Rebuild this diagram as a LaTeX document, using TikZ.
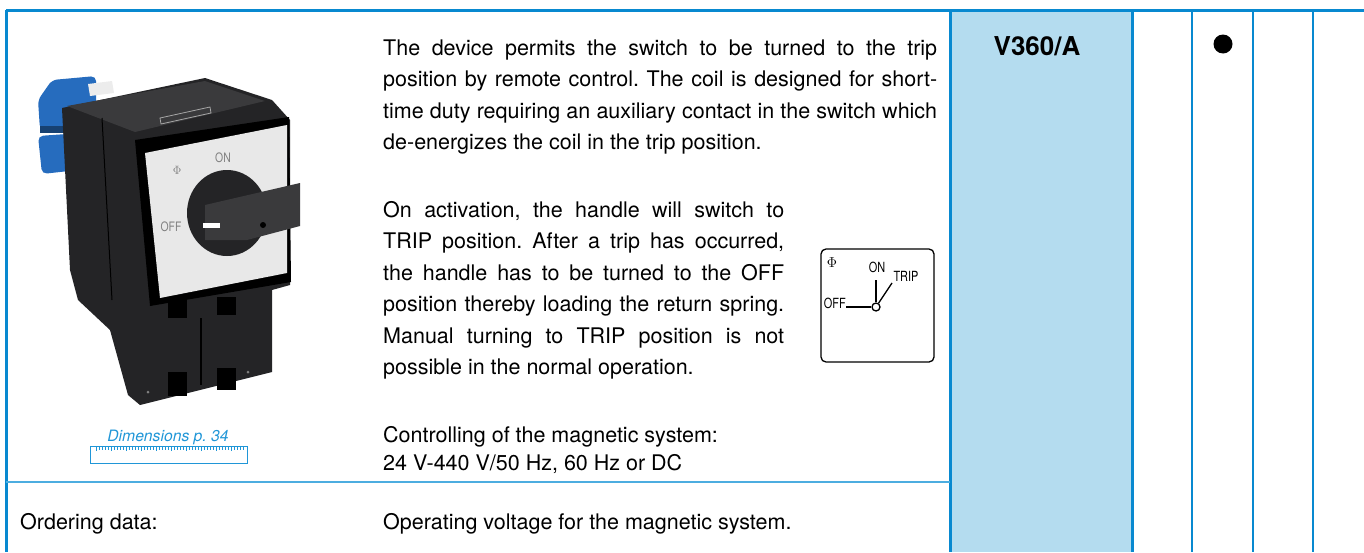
\documentclass[tikz,border=0pt]{standalone}
\usepackage{fontspec}
\setmainfont{TeX Gyre Heros}
\usepackage{xcolor}
\usepackage{tikz}
\usetikzlibrary{positioning}
\setlength{\parindent}{0pt}
\frenchspacing

\definecolor{frameblue}{RGB}{8,137,208}
\definecolor{colfill}{RGB}{180,220,239}
\definecolor{rowline}{RGB}{76,173,224}
\definecolor{dimblue}{RGB}{32,150,215}
\definecolor{bodyblack}{RGB}{36,36,38}
\definecolor{topblack}{RGB}{58,58,60}
\definecolor{clampblue}{RGB}{38,108,190}
\definecolor{plategrey}{RGB}{232,232,232}

\newcommand{\jline}[2]{\makebox[#1][s]{#2}}

\tikzset{
  para/.style={anchor=north west,inner sep=0pt,text width=#1,align=justify,
    font=\fontsize{21.5}{31.5}\selectfont},
  oneline/.style={anchor=base west,inner sep=0pt,font=\fontsize{21.5}{26}\selectfont},
  symtext/.style={inner sep=0pt,font=\fontsize{14}{14}\selectfont},
  platetext/.style={inner sep=0pt,text=gray,font=\fontsize{13}{13}\selectfont},
  symline/.style={line width=1.3pt},
}

\begin{document}
\begin{tikzpicture}[x=1pt,y=-1pt]
        \useasboundingbox (0,0) rectangle (1364,552);

        % Columns
        \fill[colfill] (950,10) rectangle (1132,552);
        \draw[frameblue,line width=3pt] (6,10) -- (1364,10);
        \draw[frameblue,line width=3pt] (6,10) -- (6,552);
        \draw[frameblue,line width=3pt] (950,10) -- (950,552);
        \draw[frameblue,line width=3pt] (1132,10) -- (1132,552);
        \foreach \cx in {1192,1253,1313}
          \draw[frameblue,line width=1.6pt] (\cx,10) -- (\cx,552);
        \draw[rowline,line width=2pt] (6,482) -- (950,482);

        % Type and mark
        \node[anchor=base,inner sep=0pt,font=\bfseries\fontsize{26}{26}\selectfont] (code) at (1037,55) {V360/A};
        \node[circle,fill=black,minimum size=19pt,inner sep=0pt] (mark) at (1223,44) {};

        % Device: blue clamps
        \fill[clampblue,rounded corners=5pt] (38,100) -- (52,80) -- (96,76) -- (96,126) -- (40,130) -- cycle;
        \fill[clampblue,rounded corners=5pt] (38,136) -- (96,132) -- (96,168) -- (42,174) -- cycle;
        \fill[clampblue!60!black] (40,126) rectangle (96,133);
        \fill[white!85!gray] (88,84) -- (112,81) -- (114,93) -- (90,96) -- cycle;

        % Device: body
        \fill[bodyblack] (62,108) -- (205,78) -- (272,100) -- (290,120) -- (290,285)
          -- (272,290) -- (272,372) -- (140,405) -- (128,395) -- (110,330) -- (78,300)
          -- (70,270) -- cycle;
        \fill[topblack] (67,106) -- (205,81) -- (265,101) -- (135,132) -- cycle;
        \draw[gray!70,line width=0.8pt] (160,118) -- (210,107) -- (211,113) -- (161,124) -- cycle;
        \draw[black,line width=1pt] (102,118) -- (112,300);

        % Device: front plate
        \fill[black] (135,140) -- (289,117) -- (291,282) -- (150,306) -- cycle;
        \fill[plategrey] (145,153) -- (287,125) -- (287,273) -- (160,298) -- cycle;
        \node[platetext] (platephi) at (177,170) {$\Phi$};
        \node[platetext] (plateon) at (223,158) {\scalebox{0.8}[1]{ON}};
        \node[platetext] (plateoff) at (171,227) {\scalebox{0.8}[1]{OFF}};

        % Device: knob and handle
        \fill[bodyblack] (227,213) ellipse [x radius=40,y radius=43];
        \fill[topblack] (205,205) -- (300,183) -- (300,226) -- (247,240) -- (205,240) -- cycle;
        \fill[black] (263,225) circle [radius=3];
        \fill[white] (203,223) rectangle (220,228);

        % Device: lower slots
        \fill[black] (168,300) rectangle (187,318);
        \fill[black] (217,297) rectangle (236,315);
        \fill[black] (168,372) rectangle (187,396);
        \fill[black] (217,368) rectangle (236,390);
        \draw[black,line width=2pt] (201,318) -- (201,385);
        \fill[gray] (148,392) circle [radius=1.5];
        \fill[gray] (248,372) circle [radius=1.5];

        % Dimensions
        \node[anchor=base,inner sep=0pt,text=dimblue,font=\itshape\fontsize{15.7}{16}\selectfont] (dims) at (168,441) {Dimensions p. 34};
        \draw[dimblue,line width=0.9pt] (90,446) rectangle (247,463);
        \foreach \t in {0,...,49}
          \draw[dimblue,line width=0.4pt] (96+3*\t,447) -- ++(0,{ifthenelse(mod(\t,5)==0,4,2.5)});

        % Description
        \node[para=554pt] (intro) at (383,33) {%
          \strut\jline{554pt}{The device permits the switch to be turned to the trip}\\
          \jline{554pt}{position by remote control. The coil is designed for short-}\\
          \jline{554pt}{time duty requiring an auxiliary contact in the switch which}\\
          de-energizes the coil in the trip position.};
        \node[para=401pt] (trip) at (383,195) {%
          \strut\jline{401pt}{On activation, the handle will switch to}\\
          \jline{401pt}{TRIP position. After a trip has occurred,}\\
          \jline{401pt}{the handle has to be turned to the OFF}\\
          \jline{401pt}{position thereby loading the return spring.}\\
          \jline{401pt}{Manual turning to TRIP position is not}\\
          possible in the normal operation.};
        \node[para=450pt,font=\fontsize{21.5}{28}\selectfont] (coil) at (383,423) {%
          \strut Controlling of the magnetic system:\\
          24 V-440 V/50 Hz, 60 Hz or DC};
        \node[oneline] (order) at (20,529) {Ordering data:};
        \node[oneline] (voltage) at (383,529) {Operating voltage for the magnetic system.};

        % Switch symbol
        \draw[symline,rounded corners=5pt] (821,249) rectangle (934,362);
        \node[symtext] (symphi) at (832,263) {$\Phi$};
        \node[symtext] (symon) at (877,267) {\scalebox{0.78}[1]{ON}};
        \node[symtext] (symtrip) at (906,276) {\scalebox{0.78}[1]{TRIP}};
        \node[symtext,anchor=east] (symoff) at (846,303) {\scalebox{0.78}[1]{OFF}};
        \node[circle,draw,symline,fill=white,minimum size=8pt,inner sep=0pt] (pivot) at (876,307) {};
        \coordinate (onend) at (876,280);
        \coordinate (tripend) at (892,283);
        \draw[symline] (symoff.east |- pivot) -- (pivot);
        \draw[symline] (pivot) -- (onend);
        \draw[symline] (pivot) -- (tripend);
    \end{tikzpicture}
\end{document}
